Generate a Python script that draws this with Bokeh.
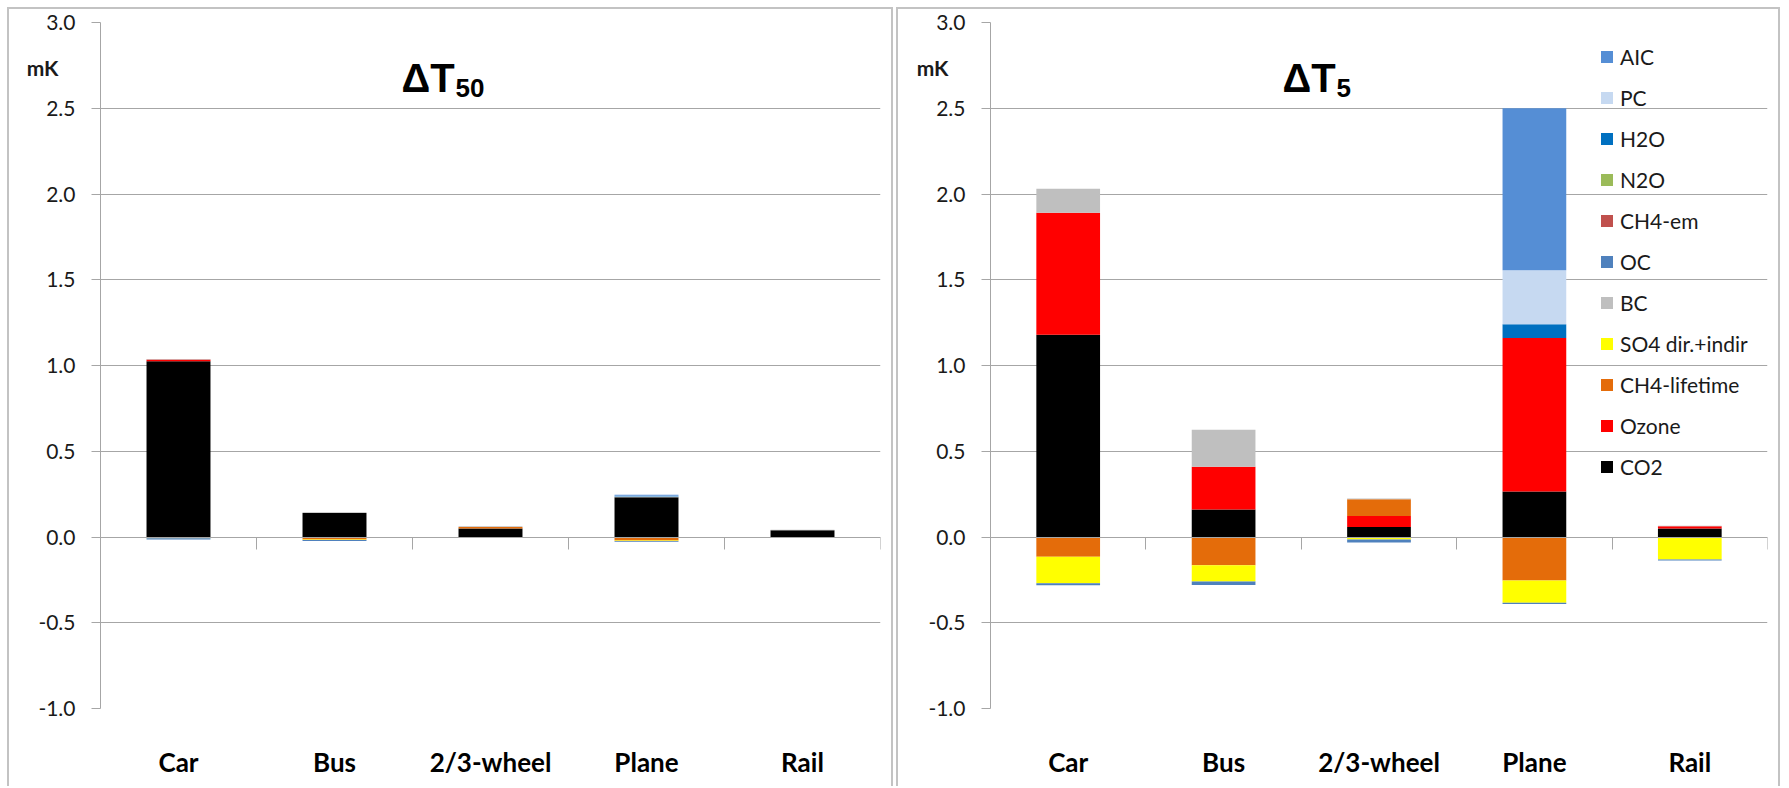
import numpy as np
from bokeh.plotting import figure
from bokeh.models import (ColumnDataSource, Range1d, FixedTicker, LinearAxis,
                          NumeralTickFormatter, Label, Legend, LegendItem, Spacer)
from bokeh.layouts import row, column
from bokeh.embed import file_html
from bokeh.resources import INLINE

# ---------------- data ----------------
categories = ["Car", "Bus", "2/3-wheel", "Plane", "Rail"]
series = ["CO2", "Ozone", "CH4-lifetime", "SO4 dir.+indir", "BC", "OC",
          "CH4-em", "N2O", "H2O", "PC", "AIC"]
colors = ["#000000", "#FF0000", "#E46C0A", "#FFFF00", "#BFBFBF", "#4F81BD",
          "#C0504D", "#9BBB59", "#0070C0", "#C6D9F1", "#558ED5"]
y_ticks = [-1.0, -0.5, 0.0, 0.5, 1.0, 1.5, 2.0, 2.5, 3.0]
unit_label = "mK"
unit_label_y = 2.735

# Delta T 50 (mK)            Car     Bus    2/3-w   Plane   Rail
t50_co2       = [1.025, 0.140, 0.050, 0.232, 0.040]
t50_ozone     = [0.008, 0.000, 0.000, 0.000, 0.000]
t50_ch4_life  = [-0.005, -0.015, 0.008, -0.020, 0.000]
t50_so4       = [-0.003, -0.003, -0.002, -0.003, -0.002]
t50_bc        = [0.003, 0.004, 0.004, 0.003, 0.003]
t50_oc        = [-0.006, -0.005, -0.004, -0.004, -0.004]
t50_ch4_em    = [0.002, 0.000, 0.000, 0.000, 0.000]
t50_n2o       = [0.000, 0.000, 0.000, 0.000, 0.000]
t50_h2o       = [0.000, 0.000, 0.000, 0.002, 0.000]
t50_pc        = [0.000, 0.000, 0.000, 0.003, 0.000]
t50_aic       = [0.000, 0.000, 0.000, 0.006, 0.000]

# Delta T 5 (mK)
t5_co2        = [1.180, 0.160, 0.058, 0.265, 0.050]
t5_ozone      = [0.710, 0.250, 0.065, 0.895, 0.012]
t5_ch4_life   = [-0.115, -0.165, 0.097, -0.253, -0.006]
t5_so4        = [-0.155, -0.095, -0.014, -0.130, -0.125]
t5_bc         = [0.140, 0.215, 0.005, 0.000, 0.004]
t5_oc         = [-0.012, -0.020, -0.018, -0.008, -0.006]
t5_ch4_em     = [0.000, 0.000, 0.000, 0.000, 0.000]
t5_n2o        = [0.000, 0.000, 0.000, 0.000, 0.000]
t5_h2o        = [0.000, 0.000, 0.000, 0.080, 0.000]
t5_pc         = [0.000, 0.000, 0.000, 0.315, 0.000]
t5_aic        = [0.000, 0.000, 0.000, 0.945, 0.000]

t50_values = [t50_co2, t50_ozone, t50_ch4_life, t50_so4, t50_bc, t50_oc,
              t50_ch4_em, t50_n2o, t50_h2o, t50_pc, t50_aic]
t5_values = [t5_co2, t5_ozone, t5_ch4_life, t5_so4, t5_bc, t5_oc,
             t5_ch4_em, t5_n2o, t5_h2o, t5_pc, t5_aic]

GRID = "#a6a6a6"
TXT = "#1a1a1a"


def make_panel(values, title_main, title_sub, width, min_left, title_x, sub_dx, legend=False):
    n = len(categories)
    xs = [i + 0.5 for i in range(n)]
    data = {"x": xs}
    pos = np.zeros(n)
    neg = np.zeros(n)
    for i, v in enumerate(values):
        v = np.asarray(v, dtype=float)
        bottom = np.where(v >= 0, pos, neg)
        top = bottom + v
        pos = np.where(v >= 0, top, pos)
        neg = np.where(v < 0, top, neg)
        data[f"b{i}"] = bottom
        data[f"t{i}"] = top
    src = ColumnDataSource(data)

    p = figure(width=width, height=779, x_range=Range1d(0, n), y_range=Range1d(-1, 3),
               output_backend="svg", toolbar_location=None,
               min_border_left=min_left, min_border_right=15,
               min_border_top=13, min_border_bottom=80,
               outline_line_color=None, background_fill_color="white",
               border_fill_color="white")
    p.xgrid.visible = False
    p.ygrid.ticker = FixedTicker(ticks=y_ticks)
    p.ygrid.grid_line_color = GRID
    p.ygrid.grid_line_width = 1

    # inner y axis: line + outward ticks only
    ya = p.yaxis[0]
    ya.ticker = FixedTicker(ticks=y_ticks)
    ya.major_label_overrides = {t: "" for t in y_ticks}
    ya.major_label_text_font_size = "0px"
    ya.major_label_standoff = 0
    ya.major_tick_out = 9
    ya.major_tick_in = 0
    ya.minor_tick_line_color = None
    ya.axis_line_color = GRID
    ya.major_tick_line_color = GRID

    # middle y axis: numeric tick labels
    la = LinearAxis(ticker=FixedTicker(ticks=y_ticks),
                    formatter=NumeralTickFormatter(format="0.0"),
                    major_tick_in=0, major_tick_out=0, major_tick_line_color=None,
                    minor_tick_line_color=None, axis_line_color=None,
                    major_label_standoff=16, major_label_text_font="Lato",
                    major_label_text_font_size="21px", major_label_text_color=TXT)
    p.add_layout(la, "left")

    # outer y axis: the unit label "mK"
    ua = LinearAxis(ticker=FixedTicker(ticks=[unit_label_y]),
                    major_label_overrides={unit_label_y: unit_label},
                    major_tick_in=0, major_tick_out=0, major_tick_line_color=None,
                    minor_tick_line_color=None, axis_line_color=None,
                    major_label_standoff=-23, major_label_text_font="Lato",
                    major_label_text_font_style="bold",
                    major_label_text_font_size="21px", major_label_text_color=TXT)
    p.add_layout(ua, "left")

    xa = p.xaxis[0]
    xa.ticker = FixedTicker(ticks=xs)
    xa.major_label_overrides = {x: c for x, c in zip(xs, categories)}
    xa.axis_line_color = None
    xa.major_tick_line_color = None
    xa.minor_tick_line_color = None
    xa.major_label_standoff = 31
    xa.major_label_text_font = "Lato"
    xa.major_label_text_font_style = "bold"
    xa.major_label_text_font_size = "26px"
    xa.major_label_text_color = "#000000"

    # category boundary ticks on the zero line
    bounds = [float(i) for i in range(1, n + 1)]
    bax = LinearAxis(fixed_location=0, ticker=FixedTicker(ticks=bounds),
                     major_label_overrides={b: "" for b in bounds},
                     major_label_text_font_size="0px", major_label_standoff=0,
                     major_tick_in=12, major_tick_out=0,
                     minor_tick_line_color=None,
                     axis_line_color=GRID, major_tick_line_color=GRID)
    p.add_layout(bax, "above")

    renderers = []
    for i, (s, c) in enumerate(zip(series, colors)):
        r = p.vbar(x="x", bottom=f"b{i}", top=f"t{i}", width=0.41, source=src,
                   fill_color=c, line_color=None)
        renderers.append((s, r))

    p.add_layout(Label(x=title_x, y=631, x_units="screen", y_units="screen",
                       text=title_main, text_font="Liberation Sans", text_font_style="bold",
                       text_font_size="40px", text_baseline="alphabetic", text_color="#000000"))
    p.add_layout(Label(x=title_x + sub_dx, y=621, x_units="screen", y_units="screen",
                       text=title_sub, text_font="Liberation Sans", text_font_style="bold",
                       text_font_size="26px", text_baseline="alphabetic", text_color="#000000"))

    if legend:
        items = [LegendItem(label=s, renderers=[r]) for s, r in reversed(renderers)]
        lg = Legend(items=items, location=(609, 229), orientation="vertical",
                    border_line_color=None, background_fill_alpha=0,
                    padding=0, margin=0, spacing=15, label_height=26,
                    glyph_width=15, glyph_height=15, label_standoff=6,
                    label_text_font="Lato", label_text_font_size="21px",
                    label_text_color=TXT)
        p.add_layout(lg)

    p.styles = {"border-top": "2px solid #c3c3c3", "border-left": "2px solid #c3c3c3",
                "border-right": "2px solid #c3c3c3"}
    return p


p1 = make_panel(t50_values, "ΔT", "50", 886, 91, 301, 54)
p2 = make_panel(t5_values, "ΔT", "5", 884, 92, 292, 54, legend=True)

layout = column(Spacer(height=7), row(Spacer(width=7), p1, Spacer(width=3), p2))
open("out.html", "w").write(file_html(layout, INLINE))
